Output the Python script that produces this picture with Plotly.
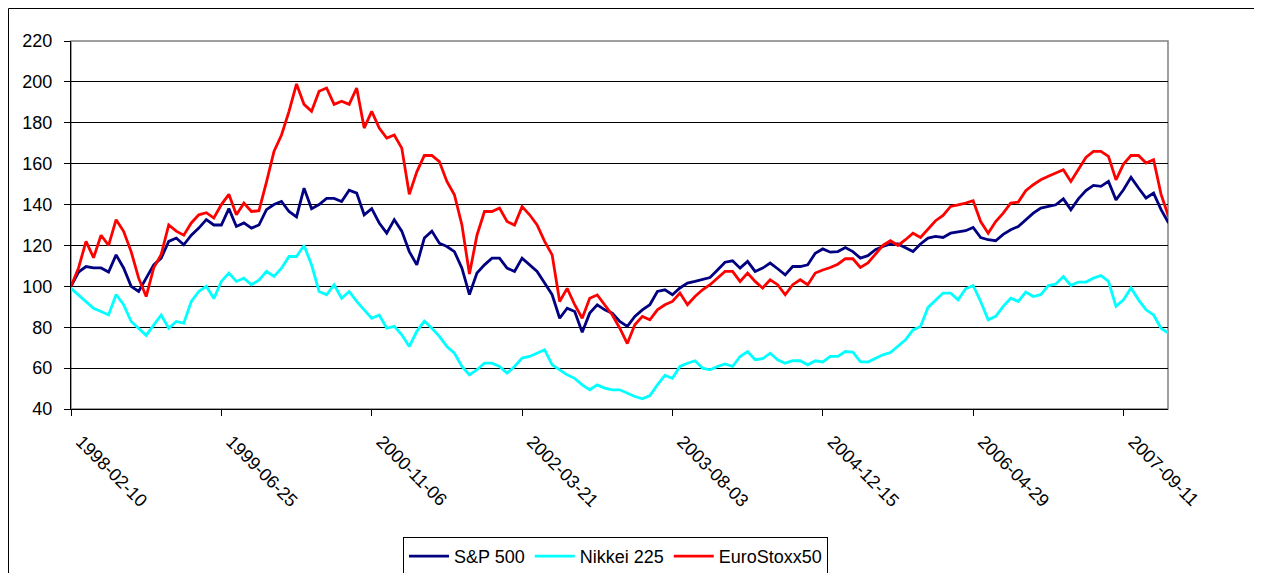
import pandas as pd
import plotly.graph_objects as go

# ---------------- data ----------------
start_date = "1998-02-10"
step_days = 25  # sampling interval of the values

sp500 = [
    100, 107, 109.7, 109, 109, 107, 115.4, 109, 100, 97.5,
    104, 110.5, 113.8, 122, 123.6, 120.3, 125, 128.5, 132.6, 130,
    130, 138, 129.3, 131, 128.5,
    130, 137.5, 140, 141.5, 136.6, 134, 148, 138, 140, 143,
    143, 141.5, 147, 145.6, 135, 138, 131, 126, 132.6, 127,
    117, 110.5, 123.6, 127,
    121.1, 119.5, 117, 108.9, 96, 106.5, 110.5, 113.8, 113.8, 108.9,
    107.3, 113.8, 110.5, 107.3, 101.6, 95.9, 84.4, 89.3, 87.7, 77.5,
    86.9, 91, 88.5, 86.9, 82.8,
    80.4, 85.3, 88.5, 91, 97.5, 98.3, 95.9, 99.2, 101.6, 102.4,
    103.2, 104.3, 108, 111.8, 112.5, 108.9, 112.2, 107.3, 108.9, 111.4,
    108.6, 105.6, 109.7, 109.7,
    110.5, 116.2, 118.3, 116.7, 117, 119, 117, 113.8, 115, 117.9,
    119.5, 120.7, 120.7, 119, 117, 120.7, 123.6, 124.4, 123.9, 126,
    126.5, 127.2, 128.8, 123.9, 122.8,
    122.3, 125.4, 127.7, 129.3, 132.6, 135.8, 138.3, 139.1, 139.9, 142.8,
    137.5, 142.8, 146.8, 149.4, 148.9, 151.3, 142.3, 147.2, 153.3, 148.1,
    143.2, 145.6, 137.5, 131,
]

nikkei225 = [
    99, 95.8, 92.6, 89.3, 87.7, 86, 96, 91, 82.8, 79.5,
    76, 81, 86, 79.5, 82.8, 82, 92.6, 97.5, 100, 94,
    102.4, 106.5, 102.4, 104, 100.8,
    103, 107.3, 104.8, 108.9, 114.6, 114.6, 120, 110.5, 97.5, 95.9,
    100.8, 94.2, 97.5, 92.6, 88.5, 84.4, 86, 79.5, 80.4, 76.3,
    70.6, 78, 83, 79.5,
    75.5, 70.6, 67.3, 60.8, 56.7, 59.2, 62.4, 62.4, 60.8, 57.5,
    60.8, 64.9, 65.7, 67.3, 69, 61.6, 59.2, 56.7, 55, 51.8,
    49.4, 51.8, 50.2, 49.4, 49.4,
    47.7, 46.1, 45, 46.6, 51.8, 56.4, 55, 60.8, 62.4, 63.6,
    60, 59.2, 60.8, 62, 60.8, 65.7, 68.1, 64.1, 64.6, 67.3,
    64.1, 62.4, 63.6, 63.6,
    61.6, 63.6, 63, 65.7, 65.7, 68.1, 67.8, 63.2, 63, 64.9,
    66.5, 67.6, 70.6, 73.8, 78.7, 80.4, 89.7, 93.4, 96.7, 96.7,
    93.4, 98.8, 100.4, 92.6, 83.6,
    85.3, 90.2, 94.2, 92.6, 97.2, 95, 95.9, 100.4, 101.1, 104.8,
    100.4, 102.1, 102.1, 104, 105.3, 102.4, 90.2, 93.4, 99.2, 93.4,
    88.5, 86, 79.5, 77,
]

eurostoxx50 = [
    100, 109, 122, 114, 125, 120, 132.6, 126.9, 117, 104,
    95, 109, 115.6, 130, 127, 125, 131, 135, 136, 133.4,
    140, 145, 135, 140.7, 136.6,
    137, 151, 166, 174, 185.6, 199, 189, 185.6, 195.4, 197,
    189, 190.5, 189, 197, 177.4, 185.6, 177.4, 172.5, 174, 167.6,
    145, 156, 164, 164,
    161, 151.3, 144.8, 130, 106, 125, 136.6, 136.6, 138.3, 131.7,
    130, 139, 135, 130, 122, 115.4, 92.6, 99, 91, 84.4,
    94.2, 95.8, 91, 86, 79.5,
    72, 81.2, 85.3, 83.6, 88.5, 91, 92.6, 96.7, 91, 95,
    98.3, 100.8, 104, 107.3, 107.3, 102.4, 106.5, 102.4, 99.2, 103.2,
    100.8, 95.9, 100.8, 103.2,
    100.8, 106.5, 108, 109.2, 110.8, 113.5, 113.5, 109.2, 111.4, 115.8,
    120, 122.3, 120, 122.8, 126, 123.9, 128.2, 132.1, 134.7, 139.1,
    139.9, 140.7, 141.9, 131.7, 126,
    131.7, 135.8, 140.7, 141.2, 146.8, 149.7, 152.1, 153.8, 155.4, 157,
    151.3, 157, 163, 166, 166, 163.6, 152.1, 159.8, 164, 164,
    160.3, 161.9, 145, 134,
]

tick_labels = ["1998-02-10", "1999-06-25", "2000-11-06", "2002-03-21",
               "2003-08-03", "2004-12-15", "2006-04-29", "2007-09-11"]
end_date = "2008-02-06"

series_names = ["S&P 500", "Nikkei 225", "EuroStoxx50"]
series_colors = ["#000080", "#00FFFF", "#FF0000"]

# ---------------- figure ----------------
dates = pd.date_range(start_date, periods=len(sp500), freq=f"{step_days}D")

fig = go.Figure()
for name, vals, col in zip(series_names, [sp500, nikkei225, eurostoxx50], series_colors):
    fig.add_trace(go.Scatter(x=dates, y=vals, mode="lines", name=name,
                             line=dict(color=col, width=2.8)))

FONT = "Liberation Sans, Arial, sans-serif"
OFF = 8                      # page body margin offset of the figure div
W, H = 1262 - OFF, 573 - OFF
# plot area in page pixels: x 71..1168, y 41..409
L, T = 71 - OFF, 41 - OFF
R = W - (1168 - OFF)
B = H - (409 - OFF)
pw, ph = W - L - R, H - T - B


def px(xpage):
    return (xpage - OFF - L) / pw


def py(ypage):
    return (H - B - (ypage - OFF)) / ph


fig.update_layout(
    width=W, height=H,
    margin=dict(l=L, r=R, t=T, b=B, autoexpand=False),
    paper_bgcolor="white", plot_bgcolor="white",
    font=dict(family=FONT, size=18, color="black"),
    showlegend=True,
    legend=dict(orientation="h", x=px(615.5), xanchor="center",
                y=py(537), yanchor="top", itemwidth=40,
                bordercolor="black", borderwidth=1, bgcolor="white",
                font=dict(family=FONT, size=18, color="black"),
                tracegroupgap=0),
    xaxis=dict(type="date", range=[start_date, end_date], automargin=False,
               tickmode="array", tickvals=tick_labels, ticktext=tick_labels,
               tickangle=45, ticks="outside", ticklen=6, tickcolor="black",
               ticklabelstandoff=8, ticklabelshift=10,
               showgrid=False, showline=True, linecolor="black", linewidth=1,
               zeroline=False, tickfont=dict(family=FONT, size=18, color="black")),
    yaxis=dict(range=[40, 220], dtick=20, tick0=40, ticks="outside", ticklen=6,
               tickcolor="black", showgrid=True, gridcolor="black", gridwidth=1,
               showline=True, linecolor="black", linewidth=1, zeroline=False,
               ticklabelstandoff=8, automargin=False,
               tickfont=dict(family=FONT, size=18, color="black")),
    shapes=[
        # plot-area border (grey, Excel style)
        dict(type="rect", xref="paper", yref="paper", x0=0, x1=1, y0=0, y1=1,
             line=dict(color="#808080", width=1.5), layer="below"),
        # outer chart-area border
        dict(type="rect", xref="paper", yref="paper",
             x0=px(8.5), x1=px(1300), y0=py(600), y1=py(8.5),
             line=dict(color="black", width=1)),
    ],
)

fig.write_html("out.html")
